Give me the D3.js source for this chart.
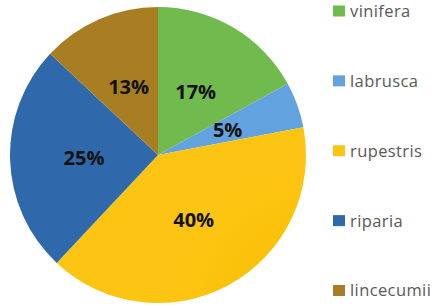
<!DOCTYPE html>
<html>
<head>
<meta charset="utf-8">
<script src="https://cdn.jsdelivr.net/npm/d3@7"></script>
<style>
  body { margin: 0; background: #fff; }
  svg { display: block; }
</style>
</head>
<body>
<div id="chart"></div>
<script>
const species = ['vinifera', 'labrusca', 'rupestris', 'riparia', 'lincecumii'];
const shares = [17, 5, 40, 25, 13];
const innerColors = ['#5da03c', '#4f8fcc', '#f9be00', '#285b96', '#8c5f0e'];
const outerColors = ['#71ba4e', '#62a2de', '#fdc513', '#3069ab', '#a97e22'];

const width = 435, height = 305;
const cx = 158, cy = 155, radius = 148;

const svg = d3.select('#chart').append('svg')
  .attr('width', width)
  .attr('height', height);

const defs = svg.append('defs');
species.forEach((s, i) => {
  const g = defs.append('radialGradient')
    .attr('id', 'grad-' + i)
    .attr('gradientUnits', 'userSpaceOnUse')
    .attr('cx', cx).attr('cy', cy).attr('r', radius);
  g.append('stop').attr('offset', '0%').attr('stop-color', innerColors[i]);
  g.append('stop').attr('offset', '100%').attr('stop-color', outerColors[i]);
});

const data = species.map((s, i) => ({ name: s, value: shares[i], idx: i }));

const pie = d3.pie().value(d => d.value).sort(null);
const arc = d3.arc().innerRadius(0).outerRadius(radius);
const labelArc = d3.arc().innerRadius(radius * 0.5).outerRadius(radius * 0.5);

const g = svg.append('g').attr('transform', `translate(${cx},${cy})`);

// slices
g.selectAll('path')
  .data(pie(data))
  .enter().append('path')
  .attr('d', arc)
  .attr('fill', d => `url(#grad-${d.data.idx})`);

// percent labels
g.selectAll('text')
  .data(pie(data))
  .enter().append('text')
  .attr('transform', d => `translate(${labelArc.centroid(d)})`)
  .attr('text-anchor', 'middle')
  .attr('dy', '0.36em')
  .attr('font-family', 'Open Sans, sans-serif')
  .attr('font-weight', 'bold')
  .attr('font-size', 20)
  .attr('fill', '#111')
  .text(d => d.data.value + '%');

// legend
const legendY = d3.scalePoint().domain(species).range([11, 290.5]);
const legend = svg.append('g')
  .selectAll('g')
  .data(data)
  .enter().append('g')
  .attr('transform', d => `translate(333,${legendY(d.name)})`);

legend.append('rect')
  .attr('x', 0).attr('y', -5.5)
  .attr('width', 12).attr('height', 11)
  .attr('fill', d => outerColors[d.idx]);

legend.append('text')
  .attr('x', 17)
  .attr('dy', '0.36em')
  .attr('font-family', 'Open Sans, sans-serif')
  .attr('font-size', 16.5)
  .attr('letter-spacing', 0.4)
  .attr('fill', '#595959')
  .text(d => d.name);
</script>
</body>
</html>
